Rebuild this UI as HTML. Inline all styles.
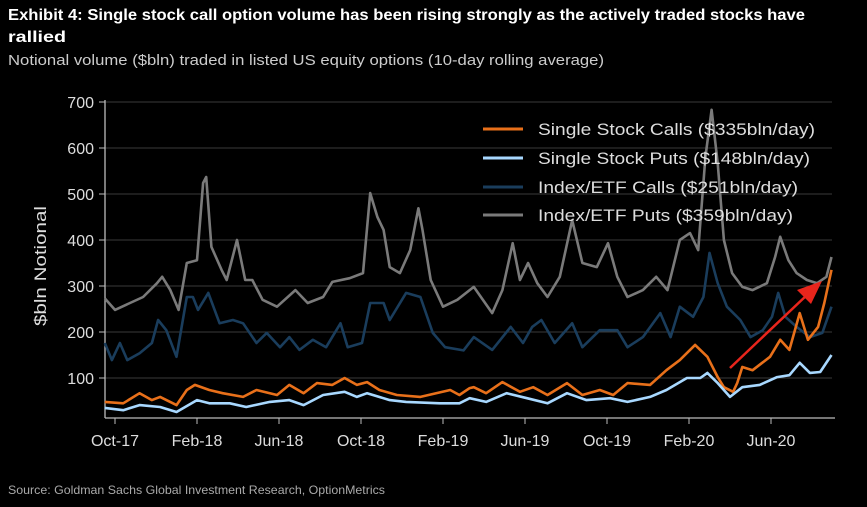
<!DOCTYPE html>
<html><head><meta charset="utf-8">
<style>
html,body{margin:0;padding:0;background:#000;}
body{width:867px;height:502px;overflow:hidden;font-family:"Liberation Sans",Arial,sans-serif;}
</style></head>
<body>
<svg width="867" height="502" viewBox="0 0 867 502" xmlns="http://www.w3.org/2000/svg">
<text x="8" y="20" fill="#fff" font-size="16" font-weight="bold" textLength="797" lengthAdjust="spacingAndGlyphs">Exhibit 4: Single stock call option volume has been rising strongly as the actively traded stocks have</text>
<text x="8" y="42" fill="#fff" font-size="16" font-weight="bold" textLength="58" lengthAdjust="spacingAndGlyphs">rallied</text>
<text x="8" y="65" fill="#ccc" font-size="14.5" textLength="596" lengthAdjust="spacingAndGlyphs">Notional volume ($bln) traded in listed US equity options (10-day rolling average)</text>
<text x="8" y="494" fill="#aaa" font-size="12" textLength="377" lengthAdjust="spacingAndGlyphs">Source: Goldman Sachs Global Investment Research, OptionMetrics</text>
<text transform="translate(46,266) rotate(-90)" text-anchor="middle" fill="#ddd" font-size="17" textLength="120" lengthAdjust="spacingAndGlyphs">$bln Notional</text>
<g id="grid"></g><g id="axes"></g><g id="series"></g>
<g>
 <line x1="483" y1="129" x2="523" y2="129" stroke="#e8701a" stroke-width="3"/>
 <text x="538" y="135" fill="#ddd" font-size="16.5" textLength="277" lengthAdjust="spacingAndGlyphs">Single Stock Calls ($335bln/day)</text>
 <line x1="483" y1="158" x2="523" y2="158" stroke="#a8d8ff" stroke-width="3"/>
 <text x="538" y="164" fill="#ddd" font-size="16.5" textLength="272" lengthAdjust="spacingAndGlyphs">Single Stock Puts ($148bln/day)</text>
 <line x1="483" y1="187" x2="523" y2="187" stroke="#1a3d5c" stroke-width="3"/>
 <text x="538" y="193" fill="#ddd" font-size="16.5" textLength="260" lengthAdjust="spacingAndGlyphs">Index/ETF Calls ($251bln/day)</text>
 <line x1="483" y1="215" x2="523" y2="215" stroke="#7a7a7a" stroke-width="3"/>
 <text x="538" y="221" fill="#ddd" font-size="16.5" textLength="255" lengthAdjust="spacingAndGlyphs">Index/ETF Puts ($359bln/day)</text>
</g>
<g>
 <line x1="730" y1="368" x2="808" y2="294" stroke="#e8251c" stroke-width="2.5"/>
 <polygon points="822,281 797,290 811,304" fill="#e8251c"/>
</g>
</svg>
<script>
// Months since Oct-17 and values ($bln)
const putsIdxT=[-0.5,0,0.73,1.37,2.05,2.3,2.7,3.1,3.5,4,4.3,4.45,4.7,5.2,5.45,5.95,6.35,6.7,7.2,7.9,8.8,9.4,10.15,10.6,11.45,12.1,12.45,12.8,13.1,13.4,13.9,14.4,14.8,15,15.4,16,16.7,17.5,18.4,18.9,19.4,19.75,20.15,20.6,21.1,21.7,22.3,22.8,23.5,24.05,24.5,25,25.75,26.4,26.95,27.55,28.05,28.45,28.8,29.1,29.4,29.7,30.1,30.6,31.1,31.8,32.2,32.45,32.85,33.25,33.75,34.25,34.7,34.95];
const putsIdxV=[273,248,263,276,306,320,291,248,350,356,524,537,385,335,313,400,313,313,270,255,291,263,276,309,317,328,502,450,422,341,328,378,469,422,313,255,270,298,241,291,393,313,350,306,276,320,443,350,341,393,320,276,291,320,291,400,415,378,580,683,567,400,328,298,291,306,363,407,356,328,313,306,320,363];
const callsIdxT=[-0.5,-0.15,0.24,0.6,1.2,1.8,2.1,2.5,3,3.5,3.8,4.05,4.55,5.1,5.75,6.25,6.9,7.4,8.05,8.5,9,9.65,10.3,11,11.35,12.05,12.45,13.1,13.4,14.2,14.9,15.5,16.1,17,17.5,18.4,19.3,19.9,20.35,20.8,21.45,22.3,22.8,23.65,24.5,25,25.75,26.6,27.1,27.55,28.2,28.7,29,29.4,29.85,30.5,31,31.6,32.05,32.35,32.7,33.25,33.9,34.5,34.95];
const callsIdxV=[176,139,176,139,154,176,226,204,146,276,276,248,285,219,226,219,176,198,167,189,161,183,167,219,167,176,263,263,226,285,276,198,167,160,189,161,211,176,211,226,176,219,167,204,204,167,189,241,189,255,233,276,372,306,255,226,189,204,233,285,233,211,189,198,255];
const callsSsT=[-0.5,0.4,1.2,1.8,2.2,3,3.5,3.9,4.6,5.25,6.25,6.9,7.9,8.5,9.2,9.85,10.6,11.2,11.8,12.3,12.9,13.75,14.9,16.35,16.8,17.3,17.5,18.1,18.9,19.75,20.4,21.1,22.05,22.8,23.65,24.3,25,26.1,26.9,27.55,28.3,28.9,29.4,29.7,30.15,30.35,30.6,31.1,31.95,32.45,32.9,33.4,33.8,34.3,34.6,34.95];
const callsSsV=[48,45,67,52,59,41,74,85,74,67,59,74,63,85,67,89,85,100,85,91,74,63,59,74,63,78,80,67,91,70,80,63,89,63,74,63,89,85,117,139,172,146,102,80,70,89,124,117,146,183,161,241,183,211,263,335];
const putsSsT=[-0.5,0.4,1.2,2.2,3,4,4.6,5.6,6.4,7.55,8.5,9.2,10.15,11.2,11.8,12.3,13.4,14.2,15.85,16.8,17.3,18.1,19.1,20.1,21.1,22.05,23,24.15,25,26.1,26.9,27.9,28.55,28.9,29.4,30,30.6,31.45,32.3,32.9,33.4,33.9,34.4,34.95];
const putsSsV=[35,30,41,37,26,52,45,45,37,48,52,41,63,70,59,67,52,48,45,45,56,48,67,56,45,67,52,56,48,59,74,100,100,111,89,59,80,85,102,106,133,111,113,150];
const yTicks=[100,200,300,400,500,600,700];
const xTickLabels=["Oct-17","Feb-18","Jun-18","Oct-18","Feb-19","Jun-19","Oct-19","Feb-20","Jun-20"];
const xTickMonths=[0,4,8,12,16,20,24,28,32];

const NS="http://www.w3.org/2000/svg";
const X=t=>115+t*20.5;
const Y=v=>424-v*0.46;
function mk(tag,attrs,parent){const e=document.createElementNS(NS,tag);for(const k in attrs)e.setAttribute(k,attrs[k]);parent.appendChild(e);return e;}
const grid=document.getElementById('grid'),axes=document.getElementById('axes'),ser=document.getElementById('series');
yTicks.forEach(v=>{
 const g=mk('line',{x1:105,x2:832,y1:Y(v),y2:Y(v),stroke:'#3a3a3a','stroke-width':1},grid);
 
 
 mk('line',{x1:99,x2:105,y1:Y(v),y2:Y(v),stroke:'#bbb'},axes);
 const t=mk('text',{x:94,y:Y(v)+6,'text-anchor':'end',fill:'#ddd','font-size':16},axes);
 t.textContent=v;
 
 
});
const ya=mk('line',{x1:105,x2:105,y1:100,y2:418,stroke:'#bbb','stroke-width':1.3},axes);


const xa=mk('line',{x1:105,x2:835,y1:418,y2:418,stroke:'#bbb','stroke-width':1.3},axes);


xTickLabels.forEach((l,i)=>{
 const x=X(xTickMonths[i]);
 mk('line',{x1:x,x2:x,y1:418,y2:424,stroke:'#bbb'},axes);
 const t=mk('text',{x:x,y:446,'text-anchor':'middle',fill:'#ddd','font-size':16},axes);
 t.textContent=l;
 
 
});
function line(ts,vs,color,name){
 const d=ts.map((t,i)=>(i?'L':'M')+X(t).toFixed(1)+','+Y(vs[i]).toFixed(1)).join(' ');
 const p=mk('path',{d:d,fill:'none',stroke:color,'stroke-width':2.6,'stroke-linejoin':'round'},ser);
 
 
}
line(putsIdxT,putsIdxV,'#7a7a7a','series-index-etf-puts');
line(callsIdxT,callsIdxV,'#1a3d5c','series-index-etf-calls');
line(callsSsT,callsSsV,'#e8701a','series-single-stock-calls');
line(putsSsT,putsSsV,'#a8d8ff','series-single-stock-puts');
</script>
</body></html>
